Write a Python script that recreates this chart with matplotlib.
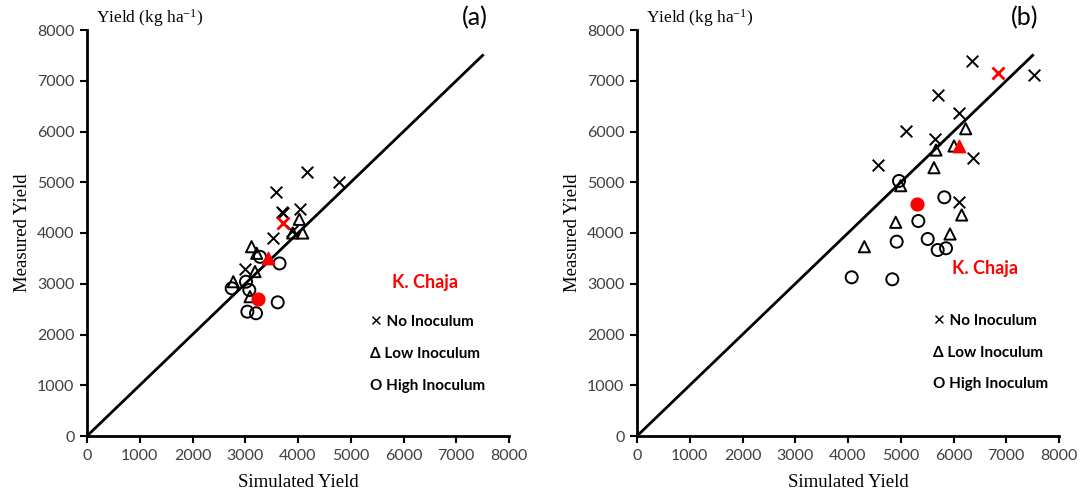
import matplotlib
matplotlib.use("Agg")
import matplotlib.pyplot as plt

plt.rcParams["mathtext.fontset"] = "custom"
plt.rcParams["mathtext.rm"] = "Liberation Serif"
plt.rcParams["mathtext.it"] = "Liberation Serif:italic"

# ---- data: panel (a) ----
a_no_x = [4170, 4780, 3583, 3690, 3720, 4040, 3880, 3530, 3000]
a_no_y = [5200, 5000, 4810, 4420, 4400, 4480, 4030, 3910, 3300]
a_no_mean = (3720, 4190)
a_low_x = [4025, 4090, 3900, 3120, 3217, 3185, 2773, 3090]
a_low_y = [4270, 4000, 4000, 3730, 3600, 3240, 3040, 2745]
a_low_mean = (3437, 3500)
a_high_x = [3280, 3650, 3014, 2743, 3077, 3615, 3040, 3204]
a_high_y = [3530, 3400, 3040, 2910, 2877, 2634, 2450, 2418]
a_high_mean = (3248, 2700)

# ---- data: panel (b) ----
b_no_x = [6357, 7532, 5712, 6104, 5094, 5649, 6376, 4563, 6104]
b_no_y = [7395, 7113, 6719, 6371, 6010, 5852, 5471, 5340, 4605]
b_no_mean = (6849, 7146)
b_low_x = [6231, 5668, 6010, 5630, 4999, 6155, 4904, 5934, 4310]
b_low_y = [6055, 5635, 5714, 5287, 4932, 4355, 4211, 3980, 3730]
b_low_mean = (6111, 5714)
b_high_x = [4967, 5826, 5333, 4923, 5511, 5700, 5858, 4070, 4840]
b_high_y = [5025, 4703, 4236, 3829, 3882, 3665, 3699, 3127, 3088]
b_high_mean = (5302, 4571)

one_to_one = [0, 7500]
ticks = [0, 1000, 2000, 3000, 4000, 5000, 6000, 7000, 8000]
legend_symbols = ["\u2715", "\u0394", "O"]
legend_labels = ["No Inoculum", "Low Inoculum", "High Inoculum"]
site = "K. Chaja"
panel_labels = ["(a)", "(b)"]

W, H = 1089, 497
fig = plt.figure(figsize=(W / 100, H / 100), dpi=100)

serif = ["Liberation Serif", "DejaVu Serif"]
sans = ["Lato", "DejaVu Sans"]

panels = [
    dict(left=87, no=(a_no_x, a_no_y, a_no_mean), low=(a_low_x, a_low_y, a_low_mean),
         high=(a_high_x, a_high_y, a_high_mean), leg=(5365, [2246, 1616, 985]), site=(6408, 3034)),
    dict(left=637, no=(b_no_x, b_no_y, b_no_mean), low=(b_low_x, b_low_y, b_low_mean),
         high=(b_high_x, b_high_y, b_high_mean), leg=(5611, [2266, 1635, 1025]), site=(6597, 3310)),
]

for i, p in enumerate(panels):
    ax = fig.add_axes([p["left"] / W, (H - 436) / H, 422 / W, 406 / H])
    ax.set_xlim(0, 8000)
    ax.set_ylim(0, 8000)
    ax.plot(one_to_one, one_to_one, color="black", lw=2, zorder=1)

    nx, ny, nm = p["no"]
    lx, ly, lm = p["low"]
    hx, hy, hm = p["high"]
    ax.scatter(nx, ny, marker="x", s=70, color="black", linewidths=1.4, zorder=3)
    ax.scatter(lx, ly, marker="^", s=65, facecolors="none", edgecolors="black", linewidths=1.4, zorder=3)
    ax.scatter(hx, hy, marker="o", s=75, facecolors="none", edgecolors="black", linewidths=1.4, zorder=3)
    ax.scatter([nm[0]], [nm[1]], marker="x", s=75, color="red", linewidths=2.0, zorder=4)
    ax.scatter([lm[0]], [lm[1]], marker="^", s=80, color="red", zorder=4)
    ax.scatter([hm[0]], [hm[1]], marker="o", s=85, color="red", zorder=4)

    for s in ["top", "right"]:
        ax.spines[s].set_visible(False)
    for s in ["left", "bottom"]:
        ax.spines[s].set_linewidth(2)
    ax.set_xticks(ticks)
    ax.set_yticks(ticks)
    ax.tick_params(direction="out", length=5, width=1.5, labelsize=11.5,
                   labelcolor="#404040", pad=4)
    for lab in ax.get_xticklabels() + ax.get_yticklabels():
        lab.set_family(sans)

    ax.set_xlabel("Simulated Yield", family=serif, fontsize=13.5, labelpad=8)
    ax.set_ylabel("Measured Yield", family=serif, fontsize=13.5, labelpad=4)

    lxp, lys = p["leg"]
    for sym, txt, yy in zip(legend_symbols, legend_labels, lys):
        ax.text(lxp, yy, sym + " " + txt, family=sans, fontsize=11, fontweight="bold",
                ha="left", va="center", color="black")
    ax.text(p["site"][0], p["site"][1], site, family=sans, fontsize=13,
            fontweight="bold", color="red", ha="center", va="center")

    fig.text((p["left"] + 9) / W, 1 - 18 / H, "Yield (kg ha$^{\\mathregular{-1}}$)", family=serif,
             fontsize=12.5, ha="left", va="center")
    fig.text((p["left"] + 388) / W, 1 - 18 / H, panel_labels[i], family=sans,
             fontsize=18, ha="center", va="center")

fig.savefig("out.png", dpi=100)
